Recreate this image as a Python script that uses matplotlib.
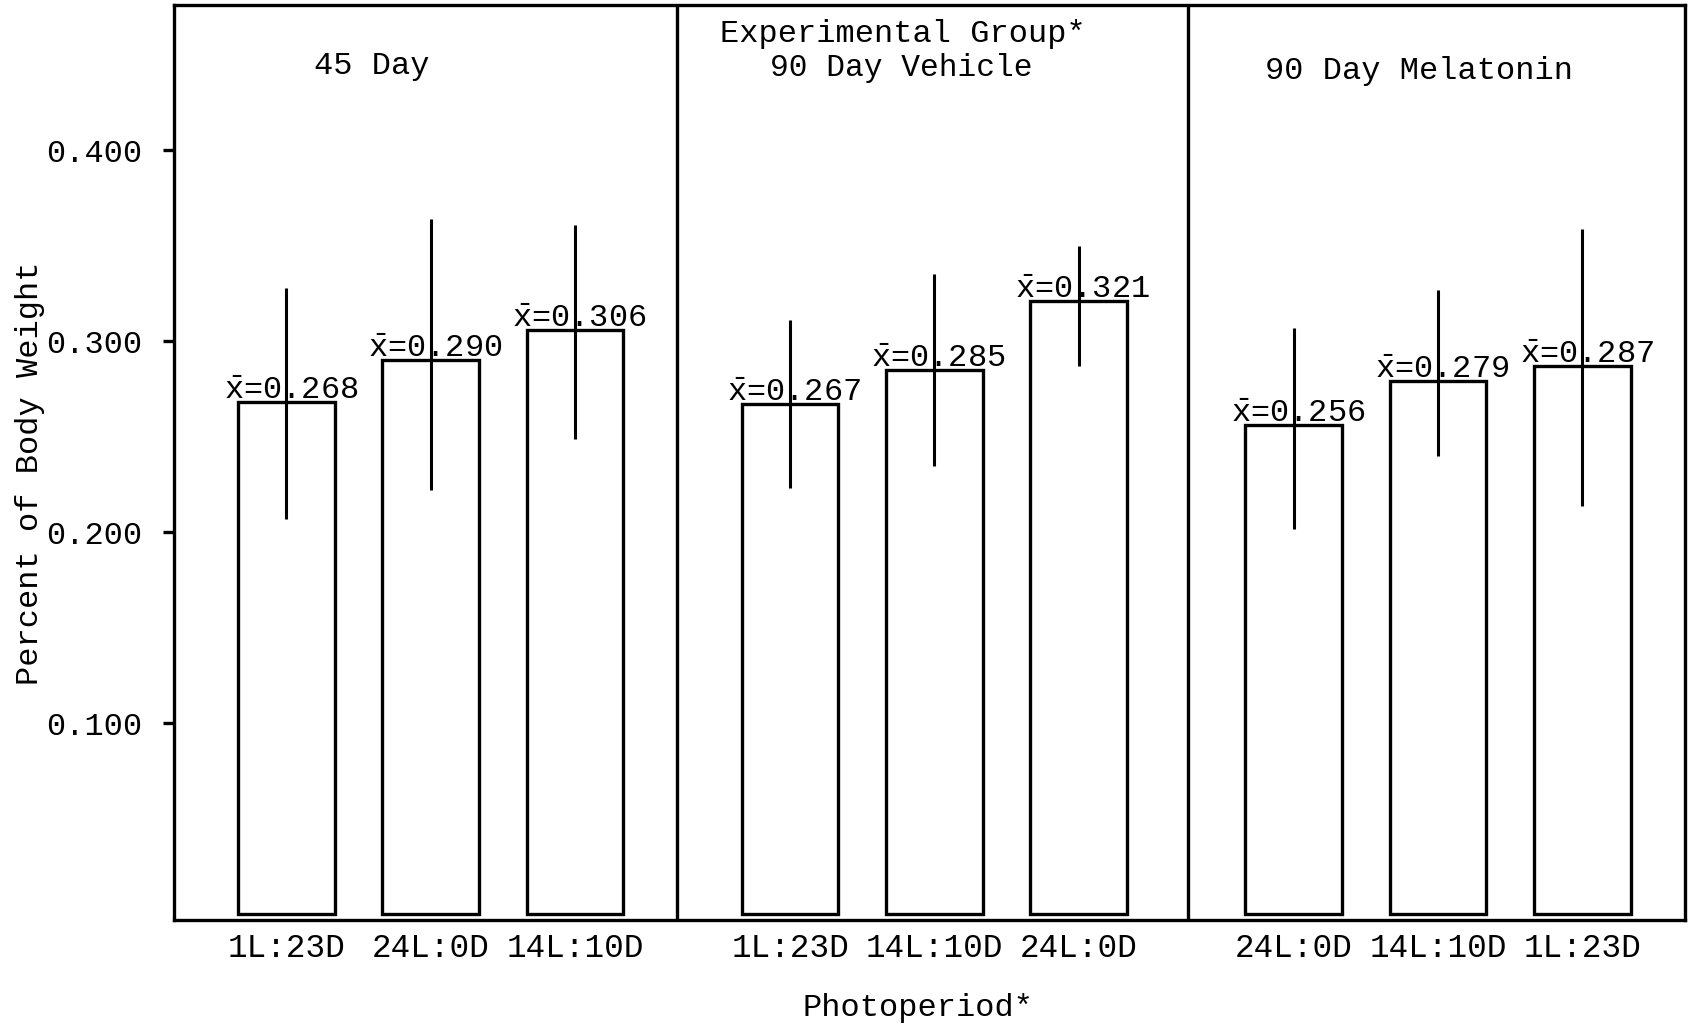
import matplotlib
matplotlib.use("Agg")
import matplotlib.pyplot as plt
import numpy as np

# ---- data ----
groups = ["45 Day", "90 Day Vehicle", "90 Day Melatonin"]
photoperiods = [["1L:23D", "24L:0D", "14L:10D"],
                ["1L:23D", "14L:10D", "24L:0D"],
                ["24L:0D", "14L:10D", "1L:23D"]]
means = [0.268, 0.290, 0.306,
         0.267, 0.285, 0.321,
         0.256, 0.279, 0.287]
err_low = [0.207, 0.222, 0.249,
           0.223, 0.235, 0.287,
           0.202, 0.240, 0.214]
err_high = [0.328, 0.364, 0.361,
            0.311, 0.335, 0.350,
            0.307, 0.327, 0.359]
yticks = [0.100, 0.200, 0.300, 0.400]

FONT = ["Liberation Mono", "DejaVu Sans Mono"]
plt.rcParams["font.family"] = FONT
plt.rcParams["mathtext.fontset"] = "custom"
plt.rcParams["mathtext.rm"] = "Liberation Mono"
plt.rcParams["mathtext.it"] = "Liberation Mono"
plt.rcParams["mathtext.tt"] = "Liberation Mono"

fig = plt.figure(figsize=(16.88, 10.27), dpi=100)
ax = fig.add_axes([0.103, 0.104, 0.895, 0.891])

group_step = 3.49
xpos = []
labels = []
for g in range(3):
    for i in range(3):
        xpos.append(g * group_step + i)
        labels.append(photoperiods[g][i])
xpos = np.array(xpos)

lw = 2.4
ax.bar(xpos, means, width=0.67, facecolor="white", edgecolor="black", linewidth=lw, zorder=2)
ax.vlines(xpos, err_low, err_high, color="black", linewidth=2.2, zorder=3)

for x, m in zip(xpos, means):
    ax.text(x + 0.03, m - 0.002, r"$\bar{\mathrm{x}}$" + "=%.3f" % m, ha="center", va="bottom",
            fontsize=23, zorder=4)

# panel dividers
for xd in [2.71, 6.25]:
    ax.axvline(xd, color="black", linewidth=lw, zorder=1)

# panel titles
ax.text(0.59, 0.444, groups[0], ha="center", va="center", fontsize=23)
ax.text(group_step + 0.78, 0.461, "Experimental Group*", ha="center", va="center", fontsize=23)
ax.text(group_step + 0.77, 0.443, groups[1], ha="center", va="center", fontsize=22.5)
ax.text(2 * group_step + 0.87, 0.4415, groups[2], ha="center", va="center", fontsize=23)

ax.set_xlim(-0.78, 9.69)
ax.set_ylim(-0.003, 0.476)
ax.set_yticks(yticks)
ax.set_yticklabels(["%.3f" % v for v in yticks], fontsize=23)
ax.set_xticks(xpos)
ax.set_xticklabels(labels, fontsize=23.5)
ax.tick_params(axis="y", length=8, width=lw, pad=15)
ax.tick_params(axis="x", length=0, pad=9)
for s in ax.spines.values():
    s.set_linewidth(lw)

ax.text(-0.0955, 0.488, "Percent of Body Weight", rotation=90, ha="center", va="center",
        fontsize=23, transform=ax.transAxes)
ax.text(0.4925, -0.0965, "Photoperiod*", ha="center", va="center", fontsize=23,
        transform=ax.transAxes)

fig.savefig("out.png", dpi=100)
